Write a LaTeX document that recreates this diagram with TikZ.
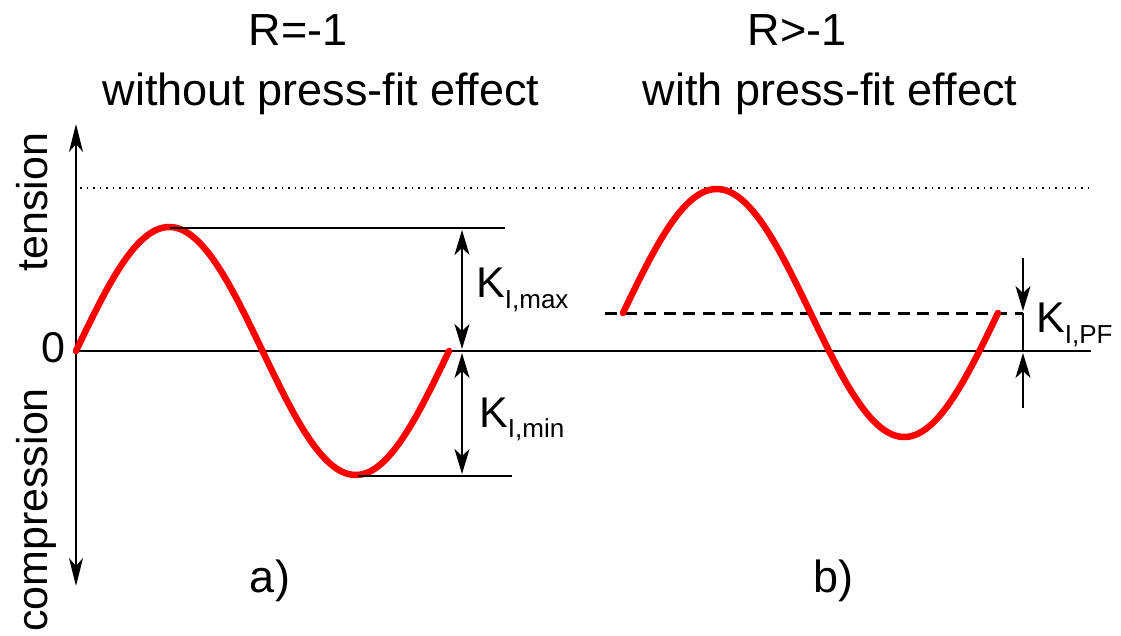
\documentclass[tikz,border=0pt]{standalone}
\usepackage{fontspec}
\setmainfont{Liberation Sans}
\usetikzlibrary{arrows.meta}
\begin{document}
\begin{tikzpicture}[x=1pt,y=-1pt,
  ln/.style={line width=2.6pt,black},
  wave/.style={line width=6.5pt,red,line cap=round},
  axarrow/.style={line width=2.6pt,-{Stealth[length=28pt,width=14pt,inset=8pt]}},
  karrow/.style={line width=2.6pt,shorten <=2pt,shorten >=2pt,{Stealth[length=25pt,width=15pt,inset=7pt]}-{Stealth[length=25pt,width=15pt,inset=7pt]}},
  sarrow/.style={line width=2.6pt,shorten >=2pt,-{Stealth[length=25pt,width=15pt,inset=7pt]}},
  big/.style={font=\fontsize{45}{54}\selectfont,inner sep=0pt},
  lab/.style={font=\fontsize{43}{50}\selectfont,inner sep=0pt}
]
\useasboundingbox (0,0) rectangle (1121,636);
% axes
\coordinate (o) at (76,351);
\coordinate (axtop) at (76,124);
\coordinate (axbot) at (76,586);
\coordinate (zend) at (1091,351);
\draw[axarrow] (o) -- (axtop);
\draw[axarrow] (o) -- (axbot);
\draw[ln] (o) -- (zend);
\coordinate (dotL) at (80,188);
\coordinate (dotR) at (1091,188);
\draw[line width=1.4pt,dash pattern=on 1.5pt off 5pt] (dotL) -- (dotR);
% a) wave
\draw[wave] plot[domain=0:360,samples=150] ({76+1.03611*\x},{351-124*sin(\x)});
\coordinate (maxL) at (170,228);
\coordinate (maxR) at (505,228);
\coordinate (minL) at (358,476);
\coordinate (minR) at (512,476);
\draw[ln] (maxL) -- (maxR);
\draw[ln] (minL) -- (minR);
\coordinate (kt) at (462,228);
\coordinate (km) at (462,351);
\coordinate (kb) at (462,476);
\draw[karrow] (kt) -- (km);
\draw[karrow] (km) -- (kb);
% b) wave
\coordinate (dashL) at (605,313);
\coordinate (dashR) at (1023,313);
\draw[line width=3pt,dash pattern=on 12pt off 7.5pt] (dashL) -- (dashR);
\draw[wave] plot[domain=0:360,samples=150] ({623+1.04167*\x},{313-124*sin(\x)});
\coordinate (pfz) at (1023,351);
\draw[ln] (dashR) -- (pfz);
\coordinate (pftop) at (1023,258);
\coordinate (pfbot) at (1023,408);
\draw[sarrow] (pftop) -- (dashR);
\draw[sarrow] (pfbot) -- (pfz);
% texts
\node[big,anchor=base] (t1) at (298,46) {R=-1};
\node[big,anchor=base] (t2) at (321,106) {without press-fit effect};
\node[big,anchor=base] (t3) at (797,46) {R>-1};
\node[big,anchor=base] (t4) at (830,106) {with press-fit effect};
\node[big,anchor=base] (la) at (270,592) {a)};
\node[big,anchor=base] (lb) at (833,592) {b)};
\node[lab,anchor=base,rotate=90] (ten) at (47,202) {tension};
\node[lab,anchor=base,rotate=90] (com) at (47,510) {compression};
\node[lab,anchor=base] (zero) at (53,362) {0};
\node[lab,anchor=base west] (kmax) at (476,298) {K\raisebox{-10pt}{\fontsize{26}{26}\selectfont I,max}};
\node[lab,anchor=base west] (kmin) at (479,427) {K\raisebox{-10pt}{\fontsize{26}{26}\selectfont I,min}};
\node[lab,anchor=base west] (kpf) at (1036,332) {K\raisebox{-11pt}{\fontsize{26}{26}\selectfont I,PF}};
\end{tikzpicture}
\end{document}
